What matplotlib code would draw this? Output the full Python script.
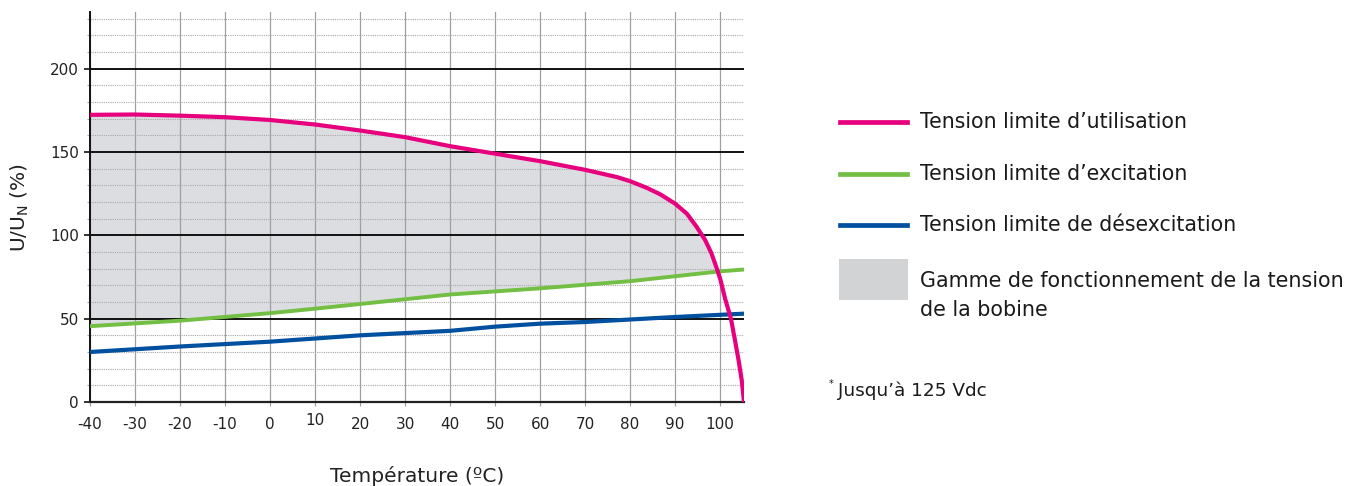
import numpy as np
import matplotlib
matplotlib.use('Agg')
import matplotlib.pyplot as plt
from matplotlib.lines import Line2D
from matplotlib.patches import Rectangle
from matplotlib.transforms import ScaledTranslation

# Data (temperature in degC, U/Un in %)
t_util = [-40, -30, -20, -10, 0, 10, 20, 30, 40, 50, 60, 70, 77, 80, 83.7, 86.7,
          90, 92.6, 94.8, 96.7, 98.1, 99.4, 100.1, 101.1, 102.4, 103.3, 104.1,
          104.8, 105.3]
u_util = [172.3, 172.5, 171.8, 170.9, 169.2, 166.5, 162.9, 158.9, 153.5, 149, 144.5,
          139.3, 135, 132.5, 128.5, 124.6, 119, 113, 105, 97, 89, 79, 73, 62, 50,
          37, 25, 13, 0]

t_exc = [-40, -20, 0, 10, 20, 40, 60, 80, 100, 105.3]
u_exc = [45.5, 48.8, 53.3, 56, 58.8, 64.5, 68.2, 72.5, 78.4, 79.5]

t_des = [-40, -20, 0, 20, 40, 50, 60, 70, 80, 90, 105.3]
u_des = [30, 33.3, 36.2, 40, 42.7, 45.2, 47, 48, 49.5, 51, 53]

xticks = list(range(-40, 101, 10))
yticks = [0, 50, 100, 150, 200]

c_util = '#e6007e'
c_exc = '#72bf44'
c_des = '#0050a0'
c_fill = '#dcdde0'

fig = plt.figure(figsize=(13.67, 4.86), dpi=100)
ax = fig.add_axes([90/1367, 84/486, 654/1367, 390/486])

# operating range: between excitation limit and utilisation limit
ex_on_util = np.interp(t_util, t_exc, u_exc)
ax.fill_between(t_util, ex_on_util, u_util, where=np.array(u_util) >= ex_on_util,
                interpolate=True, color=c_fill, lw=0, zorder=0.2)

ax.plot(t_des, u_des, color=c_des, lw=3.0, zorder=3, solid_capstyle='butt')
ax.plot(t_exc, u_exc, color=c_exc, lw=2.8, zorder=3, solid_capstyle='butt')
ax.plot(t_util, u_util, color=c_util, lw=3.0, zorder=4, solid_capstyle='butt',
        solid_joinstyle='round')

ax.set_xlim(-40, 105.3)
ax.set_ylim(0, 234)
ax.set_xticks(xticks)
ax.set_xticklabels([str(v) for v in xticks])
ax.set_yticks(yticks)
ax.set_yticks(range(10, 231, 10), minor=True)

ax.set_axisbelow(True)
ax.xaxis.grid(True, which='major', color='#a0a0a0', lw=0.9)
ax.yaxis.grid(True, which='major', color='#111111', lw=1.4)
ax.yaxis.grid(True, which='minor', color='#a8a8a8', lw=0.8, ls=(0, (1, 1)))

for s in ['top', 'right']:
    ax.spines[s].set_visible(False)
ax.spines['left'].set_color('#111111')
ax.spines['left'].set_linewidth(1.4)
ax.spines['bottom'].set_color('#222222')
ax.spines['bottom'].set_linewidth(1.6)

ax.tick_params(axis='x', which='major', length=3, width=0.8, color='#999999',
               pad=8, labelsize=11, labelcolor='#222222')
ax.tick_params(axis='y', which='major', length=4, width=1.2, color='#111111',
               pad=4, labelsize=11, labelcolor='#222222')
ax.tick_params(axis='y', which='minor', length=2, width=0.8, color='#aaaaaa')

# the "10" label sits a little higher in the original
lbl10 = ax.get_xticklabels()[xticks.index(10)]
lbl10.set_transform(lbl10.get_transform() + ScaledTranslation(0, 4/100, fig.dpi_scale_trans))

ax.set_xlabel('Température (ºC)', fontsize=14.5, color='#222222', labelpad=24)
ax.set_ylabel('U/U$_{\\mathregular{N}}$ (%)', fontsize=14.5, color='#222222', labelpad=14)

# legend drawn to the right of the chart
W, H = 1367, 486
leg = [(c_util, 'Tension limite d\u2019utilisation', 122),
       (c_exc, 'Tension limite d\u2019excitation', 174),
       (c_des, 'Tension limite de désexcitation', 225)]
for col, txt, yp in leg:
    fig.add_artist(Line2D([840/W, 907/W], [1 - yp/H, 1 - yp/H], color=col, lw=3.4,
                          transform=fig.transFigure))
    fig.text(920/W, 1 - yp/H, txt, fontsize=14.8, color='#1a1a1a', va='center', ha='left')

fig.add_artist(Rectangle((839/W, 1 - 300/H), 69/W, 41/H, color='#d1d3d4', lw=0,
                         transform=fig.transFigure))
fig.text(920/W, 1 - 281/H, 'Gamme de fonctionnement de la tension', fontsize=14.9,
         color='#1a1a1a', va='center', ha='left')
fig.text(920/W, 1 - 310/H, 'de la bobine', fontsize=14.9, color='#1a1a1a',
         va='center', ha='left')

fig.text(829/W, 1 - 384/H, '*', fontsize=7, color='#1a1a1a', va='center', ha='left')
fig.text(838/W, 1 - 391/H, 'Jusqu\u2019à 125 Vdc', fontsize=13.3, color='#1a1a1a',
         va='center', ha='left')

fig.savefig('out.png', dpi=100)
